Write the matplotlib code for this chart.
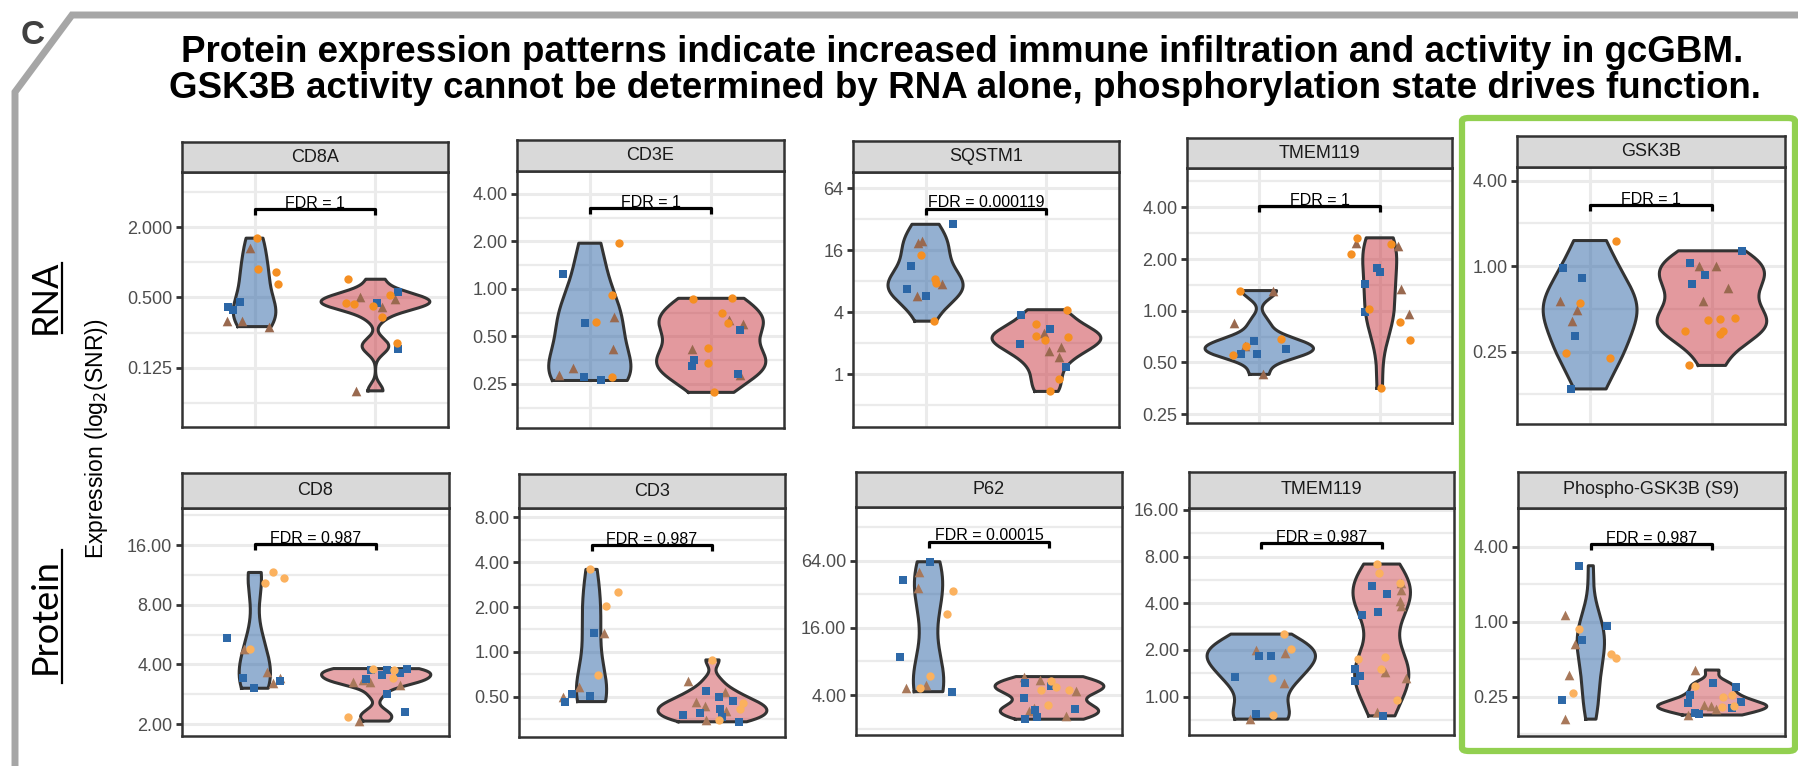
import numpy as np
import matplotlib
matplotlib.use("Agg")
import matplotlib.pyplot as plt
from matplotlib.lines import Line2D
from matplotlib.patches import FancyBboxPatch

W, H = 1798, 766

# ------------------------------------------------------------------
# data: log2(SNR) values, x = jittered position
# kind: o = orange circle, s = blue square, t = brown triangle
# group 1 = left (blue violin), group 2 = right (red violin)
# ------------------------------------------------------------------
cd8a_x1 = [1.02, 0.96, 1.03, 1.18, 1.19, 0.88, 0.78, 0.82, 0.77, 0.90, 1.12]
cd8a_y1 = [0.69, 0.42, -0.19, -0.27, -0.61, -1.12, -1.26, -1.36, -1.66, -1.66, -1.83]
cd8a_k1 = "otooosssttt"
cd8a_x2 = [1.77, 2.19, 2.12, 1.87, 2.16, 2.01, 1.76, 1.82, 1.98, 2.05, 2.05, 2.18, 2.19, 1.84]
cd8a_y2 = [-0.48, -0.85, -0.92, -0.98, -1.05, -1.17, -1.17, -1.19, -1.23, -1.26, -1.56, -2.29, -2.48, -3.66]
cd8a_k2 = "osottsoootoost"

cd3e_x1 = [1.24, 0.78, 1.18, 0.96, 1.05, 1.20, 1.19, 0.86, 0.75, 0.95, 1.09, 1.18]
cd3e_y1 = [0.96, 0.32, -0.14, -0.72, -0.69, -0.60, -1.26, -1.66, -1.82, -1.85, -1.93, -1.85]
cd3e_k1 = "ososottttsso"
cd3e_x2 = [1.85, 2.17, 2.09, 2.14, 2.15, 2.26, 2.24, 1.97, 1.84, 1.86, 1.84, 1.97, 2.22, 2.24, 2.02]
cd3e_y2 = [-0.21, -0.20, -0.50, -0.71, -0.65, -0.75, -0.86, -1.25, -1.27, -1.49, -1.62, -1.57, -1.79, -1.82, -2.18]
cd3e_k2 = "oooottsotssosto"

sqstm1_x1 = [1.23, 0.97, 0.94, 0.96, 0.88, 1.08, 1.09, 1.14, 0.85, 1.00, 0.93, 1.07]
sqstm1_y1 = [4.84, 4.31, 4.25, 3.85, 3.49, 3.06, 2.94, 2.90, 2.74, 2.53, 2.51, 1.71]
sqstm1_k1 = "sttosootssto"
sqstm1_x2 = [2.17, 1.79, 1.91, 2.03, 1.98, 1.91, 1.99, 2.18, 2.12, 1.78, 2.02, 2.10, 2.16, 2.10, 2.03]
sqstm1_y2 = [2.08, 1.90, 1.61, 1.47, 1.32, 1.24, 1.11, 1.19, 0.86, 0.98, 0.73, 0.54, 0.24, -0.16, -0.56]
sqstm1_k2 = "osostoootsttsoo"

tmem_r_x1 = [0.84, 1.11, 0.79, 0.96, 1.18, 0.88, 0.89, 1.22, 0.78, 0.85, 0.98, 1.03]
tmem_r_y1 = [0.39, 0.39, -0.24, -0.58, -0.54, -0.68, -0.69, -0.74, -0.85, -0.84, -0.84, -1.23]
tmem_r_k1 = "ottsotososst"
tmem_r_x2 = [1.81, 1.80, 2.09, 2.15, 1.76, 1.98, 2.00, 1.88, 2.18, 1.91, 1.88, 2.24, 2.17, 2.25, 2.01]
tmem_r_y2 = [1.41, 1.31, 1.29, 1.25, 1.09, 0.82, 0.74, 0.51, 0.43, 0.04, -0.03, -0.07, -0.21, -0.56, -1.50]
tmem_r_k2 = "ototossstostooo"

gsk_x1 = [1.21, 0.78, 0.93, 0.75, 0.92, 0.89, 0.85, 0.88, 0.80, 1.16, 0.84]
gsk_y1 = [0.60, -0.05, -0.28, -0.81, -0.86, -1.02, -1.27, -1.63, -2.02, -2.15, -2.87]
gsk_k1 = "osstottsoos"
gsk_x2 = [2.25, 1.82, 1.89, 2.03, 1.94, 1.84, 2.13, 1.93, 2.19, 1.97, 2.07, 1.78, 2.09, 2.07, 1.81]
gsk_y2 = [0.36, 0.08, 0.01, 0.00, -0.20, -0.41, -0.50, -0.82, -1.20, -1.26, -1.23, -1.52, -1.52, -1.58, -2.32]
gsk_k2 = "ssttssttooooooo"

cd8_x1 = [1.15, 1.24, 1.08, 0.77, 0.91, 0.96, 1.10, 0.90, 1.15, 1.21, 1.21, 0.99]
cd8_y1 = [3.54, 3.45, 3.36, 2.44, 2.25, 2.26, 1.87, 1.78, 1.69, 1.77, 1.72, 1.60]
cd8_k1 = "ooostotsttss"
cd8_x2 = [1.97, 1.96, 2.09, 2.25, 2.15, 2.05, 2.20, 2.14, 1.92, 1.81, 1.89, 1.95, 2.20, 2.09, 2.24, 1.77, 1.86]
cd8_y2 = [1.93, 1.90, 1.90, 1.92, 1.90, 1.82, 1.85, 1.78, 1.75, 1.71, 1.73, 1.71, 1.66, 1.50, 1.20, 1.12, 1.05]
cd8_k2 = "osssossosttttssot"

cd3_x1 = [0.99, 1.22, 1.12, 1.02, 1.10, 1.05, 0.90, 0.84, 0.76, 0.99, 0.78]
cd3_y1 = [1.84, 1.33, 1.02, 0.43, 0.41, -0.52, -0.78, -0.94, -1.00, -0.99, -1.11]
cd3_k1 = "ooostotstss"
cd3_x2 = [2.00, 1.80, 1.95, 2.10, 2.05, 2.17, 1.86, 1.94, 2.25, 2.23, 2.06, 2.11, 1.90, 1.76, 2.08, 2.05, 1.95, 2.22]
cd3_y2 = [-0.18, -0.64, -0.87, -0.89, -1.01, -1.09, -1.13, -1.20, -1.15, -1.28, -1.28, -1.31, -1.36, -1.42, -1.45, -1.52, -1.52, -1.56]
cd3_k2 = "otstssttoostsssots"

p62_x1 = [1.01, 0.79, 0.92, 0.91, 1.20, 1.15, 0.76, 1.01, 0.81, 0.93, 0.98, 1.19]
p62_y1 = [5.97, 5.44, 5.65, 5.18, 5.11, 4.42, 3.13, 2.58, 2.20, 2.22, 2.30, 2.10]
p62_k1 = "ssttoosotots"
p62_x2 = [1.79, 1.92, 2.01, 1.80, 2.01, 2.05, 1.93, 2.16, 2.22, 1.79, 1.99, 1.87, 1.88, 2.21, 1.83, 1.90, 1.80, 2.14]
p62_y2 = [2.55, 2.45, 2.43, 2.35, 2.27, 2.23, 2.15, 2.15, 2.13, 1.91, 1.70, 1.60, 1.55, 1.57, 1.51, 1.34, 1.28, 1.38]
p62_k2 = "ttossoootsotsstsst"

tmem_p_x1 = [1.19, 1.25, 0.96, 1.20, 0.98, 1.08, 0.78, 1.09, 1.19, 0.96, 1.10, 0.91]
tmem_p_y1 = [1.34, 1.02, 1.00, 0.93, 0.87, 0.87, 0.43, 0.40, 0.30, -0.37, -0.39, -0.48]
tmem_p_k1 = "oottsssotsot"
tmem_p_x2 = [1.96, 1.98, 2.16, 2.15, 2.16, 1.92, 2.04, 2.15, 2.16, 1.97, 1.84,
             2.03, 1.80, 1.99, 2.03, 1.78, 1.82, 1.78, 2.20, 2.13, 1.96, 2.01]
tmem_p_y2 = [2.84, 2.64, 2.43, 2.44, 2.29, 2.37, 2.20, 2.04, 1.94, 1.81, 1.75,
             0.84, 0.81, 0.59, 0.52, 0.59, 0.44, 0.34, 0.39, -0.06, -0.32, -0.41]
tmem_p_k2 = "oototssttssoootssstots"

pgsk_x1 = [0.90, 0.79, 1.13, 0.90, 0.93, 0.87, 1.17, 1.21, 0.82, 0.85, 0.76, 0.79]
pgsk_y1 = [1.49, 0.18, -0.11, -0.20, -0.49, -0.60, -0.87, -0.96, -1.42, -1.91, -2.08, -2.60]
pgsk_k1 = "stsostootost"
pgsk_x2 = [1.86, 2.01, 1.86, 2.20, 1.82, 2.09, 2.16, 2.24, 1.80, 1.93, 1.99, 2.08, 2.03, 2.18, 2.16, 1.86, 1.80, 1.89]
pgsk_y2 = [-1.29, -1.63, -1.72, -1.73, -1.95, -2.02, -1.95, -2.14, -2.18, -2.22, -2.24, -2.27, -2.34, -2.24, -2.31, -2.44, -2.49, -2.46]
pgsk_k2 = "tsossoossttotossts"

# panel titles, FDR labels, axis ranges (log2) and tick labels
titles = ["CD8A", "CD3E", "SQSTM1", "TMEM119", "GSK3B",
          "CD8", "CD3", "P62", "TMEM119", "Phospho-GSK3B (S9)"]
fdr = ["FDR = 1", "FDR = 1", "FDR = 0.000119", "FDR = 1", "FDR = 1",
       "FDR = 0.987", "FDR = 0.987", "FDR = 0.00015", "FDR = 0.987", "FDR = 0.987"]
fdr_y = [1.51, 1.70, 5.35, 2.03, 1.43, 4.02, 2.38, 6.57, 3.29, 2.07]
ylims = [(-4.69, 2.575), (-2.93, 2.48), (-1.71, 6.53), (-2.17, 2.76), (-3.69, 2.32),
         (0.80, 4.62), (-1.90, 3.21), (0.81, 7.60), (-0.82, 4.04), (-3.05, 3.03)]
yticks = [[-3, -1, 1], [-2, -1, 0, 1, 2], [0, 2, 4, 6], [-2, -1, 0, 1, 2], [-2, 0, 2],
          [1, 2, 3, 4], [-1, 0, 1, 2, 3], [2, 4, 6], [0, 1, 2, 3, 4], [-2, 0, 2]]
yticklabels = [["0.125", "0.500", "2.000"],
               ["0.25", "0.50", "1.00", "2.00", "4.00"],
               ["1", "4", "16", "64"],
               ["0.25", "0.50", "1.00", "2.00", "4.00"],
               ["0.25", "1.00", "4.00"],
               ["2.00", "4.00", "8.00", "16.00"],
               ["0.50", "1.00", "2.00", "4.00", "8.00"],
               ["4.00", "16.00", "64.00"],
               ["1.00", "2.00", "4.00", "8.00", "16.00"],
               ["0.25", "1.00", "4.00"]]

groups = [
    ((cd8a_x1, cd8a_y1, cd8a_k1), (cd8a_x2, cd8a_y2, cd8a_k2)),
    ((cd3e_x1, cd3e_y1, cd3e_k1), (cd3e_x2, cd3e_y2, cd3e_k2)),
    ((sqstm1_x1, sqstm1_y1, sqstm1_k1), (sqstm1_x2, sqstm1_y2, sqstm1_k2)),
    ((tmem_r_x1, tmem_r_y1, tmem_r_k1), (tmem_r_x2, tmem_r_y2, tmem_r_k2)),
    ((gsk_x1, gsk_y1, gsk_k1), (gsk_x2, gsk_y2, gsk_k2)),
    ((cd8_x1, cd8_y1, cd8_k1), (cd8_x2, cd8_y2, cd8_k2)),
    ((cd3_x1, cd3_y1, cd3_k1), (cd3_x2, cd3_y2, cd3_k2)),
    ((p62_x1, p62_y1, p62_k1), (p62_x2, p62_y2, p62_k2)),
    ((tmem_p_x1, tmem_p_y1, tmem_p_k1), (tmem_p_x2, tmem_p_y2, tmem_p_k2)),
    ((pgsk_x1, pgsk_y1, pgsk_k1), (pgsk_x2, pgsk_y2, pgsk_k2)),
]

# panel boxes in pixels: left, top, right, bottom, strip top
boxes = [(182, 172, 448, 427, 142), (517, 171, 784, 428, 140), (853, 172, 1119, 427, 141),
         (1187, 168, 1452, 423, 138), (1517, 167, 1785, 424, 136),
         (182, 508, 449, 736, 473), (519, 508, 785, 737, 474), (856, 507, 1122, 735, 472),
         (1189, 508, 1454, 735, 472), (1518, 508, 1785, 736, 472)]

plt.rcParams["font.family"] = ["Liberation Sans", "DejaVu Sans"]

DARK = "#333333"
GRID = "#EBEBEB"
VIOLIN = ["#2A62A4", "#C8353F"]


def rect(x0, y0, x1, y1):
    return [x0 / W, 1 - y1 / H, (x1 - x0) / W, (y1 - y0) / H]


def kde(vals, grid):
    # gaussian kernel, bw.nrd0 like R
    v = np.asarray(vals, dtype=float)
    n = len(v)
    sd = v.std(ddof=1)
    q75, q25 = np.percentile(v, [75, 25])
    lo = min(sd, (q75 - q25) / 1.34)
    if lo <= 0:
        lo = sd
    bw = 0.9 * lo * n ** -0.2
    z = (grid[:, None] - v[None, :]) / bw
    return np.exp(-0.5 * z ** 2).sum(1) / (n * bw * np.sqrt(2 * np.pi))


fig = plt.figure(figsize=(W / 100, H / 100), dpi=100)

for i in range(10):
    x0, y0, x1, y1, st = boxes[i]
    protein = i >= 5
    ax = fig.add_axes(rect(x0, y0, x1, y1))
    ax.set_xlim(0.4, 2.6)
    ax.set_ylim(*ylims[i])
    lo, hi = ylims[i]

    # grid lines
    ticks = yticks[i]
    step = ticks[1] - ticks[0]
    minors = np.arange(ticks[0] - step / 2, hi, step)
    for m in minors:
        if lo < m < hi:
            ax.axhline(m, color=GRID, lw=1.6, zorder=0)
    for t in ticks:
        ax.axhline(t, color=GRID, lw=2.2, zorder=0)
    if not protein:
        for xv in (1, 2):
            ax.axvline(xv, color=GRID, lw=2.2, zorder=0)

    # violins (area scaled, trimmed)
    curves = []
    for (xs, ys, ks) in groups[i]:
        g = np.linspace(min(ys), max(ys), 512)
        curves.append((g, kde(ys, g)))
    dmax = max(d.max() for g, d in curves)
    for j, (g, d) in enumerate(curves):
        w = 0.45 * d / dmax
        xc = j + 1
        ax.fill_betweenx(g, xc - w, xc + w, facecolor=VIOLIN[j],
                         alpha=0.45 if protein and j == 1 else 0.5, lw=0, zorder=1)
        ox = np.concatenate([xc - w, (xc + w)[::-1], [xc - w[0]]])
        oy = np.concatenate([g, g[::-1], [g[0]]])
        ax.plot(ox, oy, color=DARK, lw=2.2, zorder=2, solid_joinstyle="round")

    # points
    if protein:
        cols = {"o": "#FBB15E", "s": "#2E69A8", "t": "#A8785A"}
    else:
        cols = {"o": "#F58F22", "s": "#2B66A6", "t": "#99694F"}
    marks = {"o": ("o", 36), "s": ("s", 36), "t": ("^", 48)}
    for (xs, ys, ks) in groups[i]:
        for kind in "tso":
            px = [x for x, k in zip(xs, ks) if k == kind]
            py = [y for y, k in zip(ys, ks) if k == kind]
            ax.scatter(px, py, marker=marks[kind][0], s=marks[kind][1],
                       color=cols[kind], linewidths=0, zorder=3)

    # FDR bracket
    ppu = (y1 - y0) / (hi - lo)
    yb = fdr_y[i]
    tk = 6 / ppu
    ax.plot([1, 1, 2, 2], [yb - tk, yb, yb, yb - tk], color="black", lw=2.3,
            solid_capstyle="butt", zorder=4)
    ax.text(1.5, yb + 1.2 / ppu, fdr[i], ha="center", va="baseline",
            fontsize=11.5, color="black", zorder=4)

    ax.set_xticks([])
    ax.set_yticks(ticks)
    ax.set_yticklabels(yticklabels[i])
    ax.tick_params(axis="y", length=4, width=2, color=DARK, pad=3,
                   labelsize=13, labelcolor="#4D4D4D")
    for sp in ax.spines.values():
        sp.set_color(DARK)
        sp.set_linewidth(1.8)

    # strip
    sax = fig.add_axes(rect(x0, st, x1, y0))
    sax.set_facecolor("#D9D9D9")
    sax.set_xticks([])
    sax.set_yticks([])
    for sp in sax.spines.values():
        sp.set_color(DARK)
        sp.set_linewidth(1.8)
    sax.text(0.5, 0.5, titles[i], ha="center", va="center", fontsize=13,
             color="#1A1A1A", transform=sax.transAxes)

# outer gray frame with cut corner
fx = lambda x: x / W
fy = lambda y: 1 - y / H
fig.add_artist(Line2D([fx(15), fx(15), fx(72), fx(1800)],
                      [fy(780), fy(92), fy(15), fy(15)],
                      color="#A6A6A6", lw=5, solid_joinstyle="miter"))
fig.text(fx(33), fy(36), "C", ha="center", va="center", fontsize=24,
         fontweight="bold", color="#404040")

# green highlight box
fig.add_artist(FancyBboxPatch((fx(1462), fy(751)), fx(1795) - fx(1462), fy(118) - fy(751),
                              boxstyle="round,pad=0,rounding_size=0.004",
                              transform=fig.transFigure, facecolor="none",
                              edgecolor="#92D050", lw=4.5))

# title
fig.text(fx(962), fy(53), "Protein expression patterns indicate increased immune infiltration and activity in gcGBM.",
         ha="center", va="center", fontsize=26.5, fontweight="bold", color="black")
fig.text(fx(965), fy(88), "GSK3B activity cannot be determined by RNA alone, phosphorylation state drives function.",
         ha="center", va="center", fontsize=26.5, fontweight="bold", color="black")

# row labels
for label, yc, y_a, y_b in (("RNA", 297, 263, 333), ("Protein", 616, 550, 683)):
    fig.text(fx(45), fy(yc), label, rotation=90, ha="center", va="center",
             fontsize=26, color="black", family=["Lato", "DejaVu Sans"])
    fig.add_artist(Line2D([fx(62), fx(62)], [fy(y_b), fy(y_a)], color="black", lw=1.6))

fig.text(fx(97), fy(439), "Expression (log$_2$(SNR))", rotation=90, ha="center",
         va="center", fontsize=16.5, color="black")

fig.savefig("out.png", dpi=100)
